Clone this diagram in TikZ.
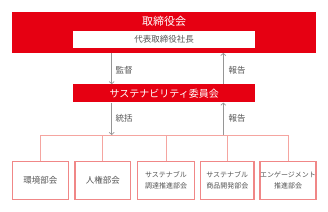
\documentclass[tikz,border=0pt]{standalone}
\usepackage{fontspec}
\setmainfont{Noto Sans CJK JP}
\usetikzlibrary{arrows.meta}
\definecolor{corpred}{RGB}{230,0,18}
\definecolor{boxline}{RGB}{240,135,135}
\definecolor{busline}{RGB}{245,165,160}
\definecolor{txtgray}{RGB}{85,85,85}
\definecolor{arrgray}{RGB}{150,150,150}
\tikzset{
  redbox/.style={draw=none, fill=corpred, minimum width=181.7pt, minimum height=18pt, inner sep=0pt, text=white, font=\fontsize{10}{12}\selectfont},
  whitebox/.style={draw=none, fill=white, minimum width=181.7pt, minimum height=17.6pt, inner sep=0pt, text=txtgray, font=\fontsize{8.5}{10}\selectfont},
  subbox/.style={draw=boxline, line width=1.1pt, fill=white, minimum height=37.3pt, inner sep=0pt, text=txtgray, align=center},
  onel/.style={font=\fontsize{8.5}{10}\selectfont},
  twol/.style={font=\fontsize{7}{11.5}\selectfont},
  arr/.style={draw=arrgray, line width=0.8pt, -{Straight Barb[length=2.2pt,width=5pt,line width=0.7pt]}},
  bus/.style={draw=busline, line width=0.9pt},
  lbl/.style={anchor=west, inner sep=0pt, text=txtgray, font=\fontsize{8.5}{10}\selectfont}
}
\begin{document}
\begin{tikzpicture}[x=1pt,y=-1pt]
\useasboundingbox (0,0) rectangle (328,211);
\fill[white] (0,0) rectangle (328,211);
% board
\node[fill=corpred, minimum width=304pt, minimum height=41pt, inner sep=0pt] (board) at (164,32.2) {};
\node[text=white, inner sep=0pt, font=\fontsize{11}{13}\selectfont] (boardtitle) at (164,21.5) {取締役会};
\node[whitebox] (president) at (164.2,39.5) {代表取締役社長};
% committee
\node[redbox] (committee) at (164.2,93.4) {サステナビリティ委員会};
% sub committees
\node[subbox, onel, minimum width=56pt] (b1) at (40.3,180.4) {環境部会};
\node[subbox, onel, minimum width=55.7pt] (b2) at (102.8,180.4) {人権部会};
\node[subbox, twol, minimum width=56.6pt] (b3) at (166,180.4) {サステナブル\\調達推進部会};
\node[subbox, twol, minimum width=53.3pt] (b4) at (227.3,180.4) {サステナブル\\商品開発部会};
\node[subbox, twol, minimum width=56pt] (b5) at (288,180.4) {エンゲージメント\\推進部会};
% helper coordinates
\coordinate (lx) at (111.7,0);
\coordinate (rx) at (223.3,0);
\coordinate (busy) at (0,135);
% bus lines
\draw[bus] (busy -| b1.north) -- (busy -| b5.north);
\foreach \b in {b1,b2,b3,b4,b5}{
  \draw[bus] (\b.north) -- (busy -| \b.north);
}
% arrows
\draw[arr] (board.south -| lx) -- (committee.north -| lx);
\draw[arr] (committee.north -| rx) -- (board.south -| rx);
\draw[arr] (committee.south -| lx) -- (busy -| lx);
\draw[arr] (busy -| rx) -- (committee.south -| rx);
% labels
\node[lbl] (l1) at (115.5,70) {監督};
\node[lbl] (l2) at (228.5,70) {報告};
\node[lbl] (l3) at (115.5,118.3) {統括};
\node[lbl] (l4) at (228.5,118.3) {報告};
\end{tikzpicture}
\end{document}
